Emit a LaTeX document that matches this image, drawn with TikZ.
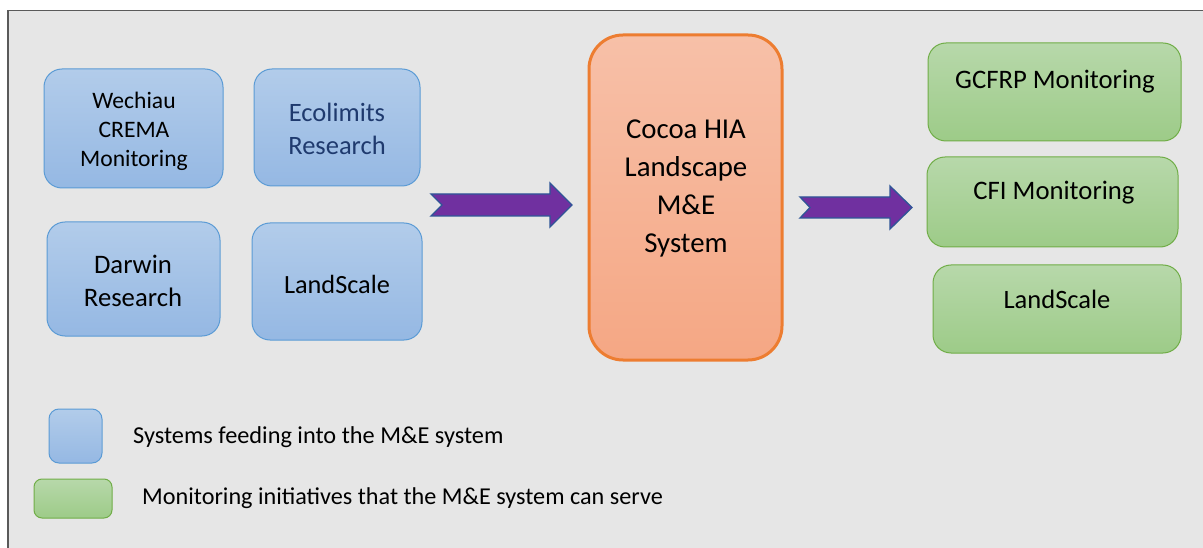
\documentclass[tikz,border=0pt]{standalone}
\usepackage{fontspec}
\setmainfont{Carlito}
\definecolor{bgray}{HTML}{E6E6E6}
\definecolor{framecol}{HTML}{5A5A5A}
\definecolor{bluetop}{HTML}{B2CCEA}
\definecolor{bluebot}{HTML}{95B8E3}
\definecolor{bluedraw}{HTML}{5B9BD5}
\definecolor{greentop}{HTML}{B7D8AA}
\definecolor{greenbot}{HTML}{9DCB88}
\definecolor{greendraw}{HTML}{70AD47}
\definecolor{orangetop}{HTML}{F7C0A8}
\definecolor{orangebot}{HTML}{F5A784}
\definecolor{orangedraw}{HTML}{ED7D31}
\definecolor{arrowfill}{HTML}{7030A0}
\definecolor{arrowdraw}{HTML}{2F5597}
\definecolor{navytext}{HTML}{1F3A6E}
\begin{document}
\begin{tikzpicture}[x=1pt,y=-1pt,
  box/.style={rounded corners=18pt, line width=1pt, inner sep=0pt, outer sep=0pt},
  bluebox/.style={box, draw=bluedraw, top color=bluetop, bottom color=bluebot},
  greenbox/.style={box, draw=greendraw, top color=greentop, bottom color=greenbot},
  orangebox/.style={rounded corners=34pt, draw=orangedraw, line width=3pt, top color=orangetop, bottom color=orangebot, inner sep=0pt},
  lbl/.style={align=center, text=black, inner sep=0pt},
  fatarrow/.style={fill=arrowfill, draw=arrowdraw, line width=1.3pt, line join=miter}
]
\useasboundingbox (0,0) rectangle (1203,548);
\fill[white] (0,0) rectangle (1203,548);
\draw[framecol, line width=1.5pt, fill=bgray] (8,600) -- (8,10.5) -- (1260,10.5) -- (1260,600) -- cycle;

% feeding systems
\node[bluebox, minimum width=179pt, minimum height=119pt] (wech) at (133.5,128.5) {};
\node[lbl, font=\fontsize{23.6}{29}\selectfont] (wecht) at (134,131) {Wechiau\\CREMA\\Monitoring};
\node[bluebox, minimum width=166pt, minimum height=117pt] (eco) at (337,127.5) {};
\node[lbl, text=navytext, font=\fontsize{26.5}{33}\selectfont] (ecot) at (337,129) {Ecolimits\\Research};
\node[bluebox, minimum width=173pt, minimum height=114pt] (dar) at (133.5,279) {};
\node[lbl, font=\fontsize{26.7}{33}\selectfont] (dart) at (133,281) {Darwin\\Research};
\node[bluebox, minimum width=170pt, minimum height=117pt] (lsb) at (337,281.5) {};
\node[lbl, font=\fontsize{26.3}{33}\selectfont] (lsbt) at (337,284) {LandScale};

% central system
\node[orangebox, minimum width=193pt, minimum height=325pt] (cen) at (685.5,197.5) {};
\node[lbl, font=\fontsize{28.8}{38}\selectfont] (cent) at (686,188) {Cocoa HIA\\Landscape\\M\&E\\System};

% served initiatives
\node[greenbox, minimum width=253pt, minimum height=98pt] (gc) at (1054.5,92) {};
\node[lbl, font=\fontsize{26.7}{33}\selectfont] (gct) at (1055,82) {GCFRP Monitoring};
\node[greenbox, minimum width=251pt, minimum height=90pt] (cfi) at (1052.5,202) {};
\node[lbl, font=\fontsize{26.7}{33}\selectfont] (cfit) at (1054,193) {CFI Monitoring};
\node[greenbox, minimum width=248pt, minimum height=88pt] (lsg) at (1057,309) {};
\node[lbl, font=\fontsize{26.5}{33}\selectfont] (lsgt) at (1057,299) {LandScale};

% block arrows
\draw[fatarrow] (431,194) -- (550,194) -- (550,183) -- (572,205) -- (550,227) -- (550,216) -- (431,216) -- (442,205) -- cycle;
\draw[fatarrow] (800,197) -- (890,197) -- (890,186) -- (912,207.5) -- (890,229) -- (890,218) -- (800,218) -- (810,207.5) -- cycle;

% legend
\node[bluebox, rounded corners=10pt, minimum width=53pt, minimum height=54pt] (legb) at (75.5,436) {};
\node[lbl, anchor=west, font=\fontsize{24.3}{28}\selectfont] (legbt) at (133,437) {Systems feeding into the M\&E system};
\node[greenbox, rounded corners=8pt, minimum width=78pt, minimum height=39pt] (legg) at (73,498.5) {};
\node[lbl, anchor=west, font=\fontsize{24.2}{28}\selectfont] (leggt) at (142,498) {Monitoring initiatives that the M\&E system can serve};
\end{tikzpicture}
\end{document}
